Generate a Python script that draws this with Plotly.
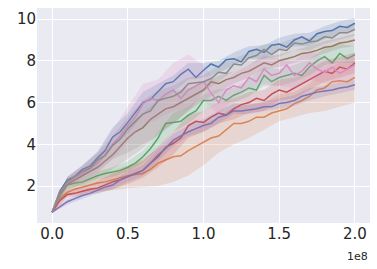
import plotly.graph_objects as go

# x positions (in units of 1e8)
x_line = [i * 0.05 for i in range(41)]
x_band = [i * 0.1 for i in range(21)]
x_ticks = [0.0, 0.5, 1.0, 1.5, 2.0]
x_tick_labels = ["0.0", "0.5", "1.0", "1.5", "2.0"]
y_ticks = [2, 4, 6, 8, 10]

blue = [0.75, 1.75, 2.3, 2.45, 2.8, 2.95, 3.35, 3.7, 4.35, 4.6, 5.05, 5.5, 6.0, 6.15, 6.5, 6.9, 7.0, 7.35, 7.6, 7.2, 7.55,
        7.85, 7.7, 8.05, 8.1, 7.95, 8.45, 8.55, 8.4, 8.75, 8.8, 8.65, 9.0, 9.15, 8.95, 9.3, 9.4, 9.45, 9.65, 9.6, 9.8]
orange = [0.75, 1.4, 1.7, 1.85, 1.95, 2.05, 2.15, 2.2, 2.3, 2.4, 2.5, 2.55, 2.6, 2.8, 3.1, 3.25, 3.4, 3.45, 3.7, 3.9, 4.1,
          4.3, 4.4, 4.7, 5.0, 5.0, 5.1, 5.3, 5.3, 5.5, 5.6, 5.7, 5.95, 6.1, 6.3, 6.6, 6.7, 7.0, 7.05, 7.0, 7.2]
green = [0.75, 1.55, 2.05, 2.15, 2.2, 2.35, 2.5, 2.6, 2.67, 2.75, 2.9, 3.1, 3.4, 3.8, 4.3, 5.0, 5.05, 5.1, 5.4, 5.6, 6.1,
         6.1, 6.3, 6.1, 6.35, 6.5, 6.7, 6.6, 7.3, 7.0, 7.2, 7.3, 7.4, 7.3, 7.7, 8.0, 8.2, 7.9, 8.35, 8.1, 8.3]
red = [0.75, 1.3, 1.6, 1.65, 1.75, 1.85, 1.9, 2.05, 2.2, 2.3, 2.45, 2.6, 2.75, 3.1, 3.4, 3.85, 4.05, 4.3, 4.9, 5.1, 5.05,
       5.3, 5.5, 5.4, 5.7, 5.9, 6.0, 6.2, 6.1, 6.4, 6.6, 6.5, 6.7, 6.9, 7.1, 7.3, 7.5, 7.4, 7.7, 7.6, 7.9]
purple = [0.75, 1.0, 1.25, 1.4, 1.55, 1.65, 1.8, 1.95, 2.05, 2.3, 2.45, 2.6, 2.75, 3.1, 3.5, 3.8, 4.2, 4.4, 4.6, 4.75, 4.9,
          5.0, 5.3, 5.4, 5.6, 5.6, 5.65, 5.7, 5.8, 5.8, 5.95, 6.0, 6.1, 6.3, 6.4, 6.5, 6.55, 6.6, 6.7, 6.75, 6.85]
brown = [0.75, 1.6, 2.1, 2.3, 2.5, 2.7, 2.9, 3.2, 3.5, 3.9, 4.3, 4.6, 4.8, 5.2, 5.45, 5.7, 5.8, 6.0, 6.2, 6.4, 6.6,
         7.0, 6.9, 7.1, 7.2, 7.4, 7.5, 7.7, 7.9, 7.8, 8.0, 8.1, 8.2, 8.35, 8.4, 8.5, 8.65, 8.7, 8.85, 8.9, 9.0]
pink = [0.75, 1.7, 2.15, 2.4, 2.6, 2.85, 3.1, 3.5, 4.0, 4.4, 4.9, 5.3, 5.95, 6.2, 6.1, 6.4, 6.6, 6.2, 6.6, 6.8, 7.0,
        6.45, 6.0, 6.6, 6.8, 6.7, 7.2, 7.0, 7.6, 7.3, 7.4, 7.8, 7.3, 7.5, 7.9, 7.6, 7.45, 7.7, 7.4, 7.6, 7.8]
gray = [0.75, 1.7, 2.2, 2.45, 2.7, 2.85, 3.25, 3.45, 3.95, 4.25, 4.75, 5.1, 5.45, 5.6, 6.1, 6.2, 6.3, 6.5, 6.9, 6.95, 7.0,
        7.15, 7.45, 7.4, 7.85, 7.8, 8.15, 8.25, 8.55, 8.3, 8.55, 8.5, 8.85, 8.8, 8.9, 8.95, 9.15, 9.1, 9.35, 9.35, 9.5]

blue_lo = [0.7, 2.05, 2.5, 3.0, 3.9, 4.5, 5.4, 6.0, 6.5, 7.1, 7.2, 7.4, 7.8, 8.1, 8.1, 8.5, 8.7, 8.7, 9.05, 9.3, 9.5]
blue_hi = [0.8, 2.45, 3.0, 3.65, 4.8, 5.5, 6.5, 6.9, 7.3, 7.9, 7.9, 8.0, 8.4, 8.7, 8.75, 9.1, 9.3, 9.35, 9.65, 9.9, 10.05]
orange_lo = [0.7, 1.5, 1.65, 1.75, 1.8, 1.9, 1.95, 2.0, 2.2, 2.5, 3.0, 3.6, 4.0, 4.3, 4.7, 5.1, 5.3, 5.5, 5.6, 5.8, 6.0]
orange_hi = [0.8, 1.9, 2.25, 2.5, 2.75, 3.0, 3.3, 3.8, 4.2, 4.6, 5.0, 5.3, 5.8, 5.9, 6.0, 6.4, 6.5, 6.9, 7.6, 7.9, 8.0]
green_lo = [0.7, 1.9, 2.0, 2.3, 2.45, 2.7, 3.1, 3.8, 4.6, 5.0, 5.6, 5.95, 6.0, 6.3, 6.8, 6.8, 7.0, 7.3, 7.8, 7.9, 7.9]
green_hi = [0.8, 2.2, 2.4, 2.7, 2.9, 3.2, 3.7, 4.6, 5.5, 5.8, 6.4, 6.65, 6.7, 7.1, 7.7, 7.6, 7.8, 8.1, 8.6, 8.8, 8.7]
red_lo = [0.7, 1.45, 1.55, 1.65, 1.85, 2.1, 2.4, 2.9, 3.5, 4.3, 4.6, 5.0, 5.2, 5.5, 5.6, 6.1, 6.2, 6.6, 7.0, 7.2, 7.4]
red_hi = [0.8, 1.8, 2.0, 2.25, 2.6, 2.9, 3.2, 3.9, 4.6, 5.4, 5.6, 6.0, 6.2, 6.5, 6.6, 7.1, 7.2, 7.6, 8.0, 8.2, 8.4]
purple_lo = [0.7, 1.12, 1.4, 1.65, 1.85, 2.2, 2.5, 3.2, 3.9, 4.4, 4.6, 5.0, 5.45, 5.45, 5.6, 5.7, 5.85, 6.1, 6.3, 6.45, 6.6]
purple_hi = [0.8, 1.38, 1.7, 1.95, 2.25, 2.7, 3.0, 3.8, 4.5, 4.9, 5.2, 5.6, 5.95, 5.9, 6.05, 6.2, 6.35, 6.7, 6.8, 6.95, 7.1]
brown_lo = [0.7, 1.8, 2.1, 2.4, 2.8, 3.3, 3.8, 4.5, 5.0, 5.6, 6.1, 6.5, 6.9, 7.2, 7.6, 7.7, 7.9, 8.1, 8.35, 8.6, 8.7]
brown_hi = [0.8, 2.35, 2.8, 3.3, 4.0, 4.9, 5.5, 6.1, 6.5, 6.7, 7.0, 7.3, 7.5, 7.8, 8.2, 8.3, 8.5, 8.7, 8.95, 9.1, 9.3]
pink_lo = [0.7, 1.9, 2.2, 2.6, 3.3, 4.1, 4.9, 5.2, 5.6, 5.7, 6.1, 5.4, 6.2, 6.6, 6.9, 6.8, 6.7, 7.1, 6.9, 6.9, 7.2]
pink_hi = [0.8, 2.4, 3.0, 3.6, 4.7, 5.8, 6.9, 7.1, 7.9, 8.3, 7.8, 6.8, 7.4, 7.8, 8.3, 8.1, 8.0, 8.5, 8.1, 8.0, 8.4]
gray_lo = [0.7, 1.95, 2.35, 2.7, 3.3, 3.6, 4.0, 4.4, 5.0, 5.6, 6.5, 7.0, 7.5, 7.8, 8.1, 8.2, 8.5, 8.5, 8.8, 9.0, 9.2]
gray_hi = [0.8, 2.45, 2.95, 3.6, 4.4, 5.3, 6.1, 6.6, 6.8, 7.2, 7.3, 7.8, 8.1, 8.4, 8.8, 8.8, 9.1, 9.1, 9.4, 9.6, 9.8]

series = [
    ("blue", blue, blue_lo, blue_hi, "#4C72B0", (76, 114, 176)),
    ("orange", orange, orange_lo, orange_hi, "#DD8452", (221, 132, 82)),
    ("green", green, green_lo, green_hi, "#55A868", (85, 168, 104)),
    ("red", red, red_lo, red_hi, "#C44E52", (196, 78, 82)),
    ("purple", purple, purple_lo, purple_hi, "#8172B3", (129, 114, 179)),
    ("brown", brown, brown_lo, brown_hi, "#937860", (147, 120, 96)),
    ("pink", pink, pink_lo, pink_hi, "#DA8BC3", (218, 139, 195)),
    ("gray", gray, gray_lo, gray_hi, "#8C8C8C", (140, 140, 140)),
]

SCALE = 1e8
fig = go.Figure()
for name, vals, lo, hi, col, rgb in series:
    fig.add_trace(go.Scatter(
        x=[v * SCALE for v in x_band] + [v * SCALE for v in x_band[::-1]],
        y=hi + lo[::-1],
        fill="toself", fillcolor="rgba(%d,%d,%d,0.2)" % rgb,
        line=dict(width=0), mode="lines", hoverinfo="skip", showlegend=False))
    fig.add_trace(go.Scatter(
        x=[v * SCALE for v in x_line], y=vals, mode="lines",
        line=dict(color=col, width=1.5), name=name, showlegend=False))

fig.update_layout(
    width=377, height=269,
    margin=dict(l=37, r=7, t=8, b=46),
    paper_bgcolor="white", plot_bgcolor="#EAEAF2",
    font=dict(family="DejaVu Sans", size=15, color="#262626"),
    xaxis=dict(range=[-0.1e8, 2.1e8], tickvals=[v * SCALE for v in x_ticks], ticktext=x_tick_labels,
               showgrid=True, gridcolor="white", gridwidth=1.3, zeroline=False, showline=False, ticks="",
               automargin=False),
    yaxis=dict(range=[0.23, 10.53], tickvals=y_ticks, ticktext=[str(t) for t in y_ticks],
               showgrid=True, gridcolor="white", gridwidth=1.3, zeroline=False, showline=False, ticks="",
               automargin=False),
    annotations=[dict(text="1e8", xref="paper", yref="paper", x=1.0, y=-0.155, xanchor="right",
                      yanchor="middle", showarrow=False, font=dict(size=11, color="#262626"))],
)
fig.write_html("out.html", config={"displayModeBar": False},
               post_script="document.body.style.margin='0';document.body.style.overflow='hidden';")
